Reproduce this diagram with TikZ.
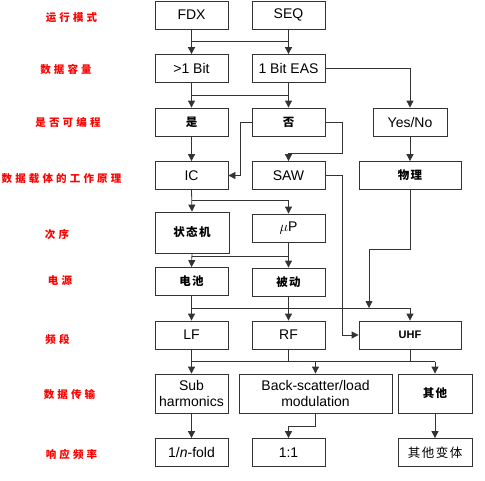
\documentclass[tikz,border=0pt]{standalone}
\usepackage{fontspec}
\setmainfont{Liberation Sans}
\newfontfamily\cjk[LetterSpace=12]{Noto Sans CJK SC}
\newfontfamily\cjkred[LetterSpace=30]{Noto Sans CJK SC}
\usetikzlibrary{arrows.meta,calc}
\tikzset{
  box/.style={draw=black!80, line width=0.8pt, minimum width=73pt, minimum height=28pt,
    inner sep=1pt, align=center, font=\fontsize{14}{16}\selectfont},
  zh/.style={font=\cjk\bfseries\fontsize{11.5}{13}\selectfont},
  lbl/.style={text=red, font=\cjkred\bfseries\fontsize{10.5}{12}\selectfont},
  wire/.style={line width=0.8pt, draw=black!80},
  arr/.style={wire, -{Triangle[length=7pt,width=7pt]}}
}
\begin{document}
\begin{tikzpicture}[x=1pt,y=-1pt]
\useasboundingbox (0,0) rectangle (485,480);
\node[box] (fdx) at (191.5,15) {FDX};
\node[box] (seq) at (288.5,15) {SEQ};
\node[box] (bit) at (191.5,68.5) {>1 Bit};
\node[box] (eas) at (288.5,68.5) {1 Bit EAS};
\node[box,zh] (yes) at (191.5,122) {是};
\node[box,zh] (no) at (288.5,122) {否};
\node[box,minimum width=74pt] (yesno) at (410,122) {Yes/No};
\node[box] (ic) at (191.5,175.5) {IC};
\node[box] (saw) at (288.5,175.5) {SAW};
\node[box,zh,minimum width=102pt] (phys) at (410,175.5) {物理};
\node[box,zh,minimum width=74pt,minimum height=41pt] (fsm) at (192,232.5) {状态机};
\node[box] (mup) at (288.5,228) {$\mu$P};
\node[box,zh] (bat) at (191.5,281.5) {电池};
\node[box,zh] (pas) at (288.5,282) {被动};
\node[box] (lf) at (191.5,335) {LF};
\node[box] (rf) at (288.5,335) {RF};
\node[box,minimum width=102pt,font=\bfseries\fontsize{11}{13}\selectfont] (uhf) at (410,335) {UHF};
\node[box,minimum height=39pt] (sub) at (191.5,393.5) {Sub\\harmonics};
\node[box,minimum width=153pt,minimum height=39pt] (bs) at (315.5,393.5) {Back-scatter/load\\modulation};
\node[box,zh,minimum width=74pt,minimum height=39pt] (oth) at (435,393.5) {其他};
\node[box] (nfold) at (191.5,452.5) {1/\textit{n}-fold};
\node[box] (one) at (288.5,452.5) {1:1};
\node[box,minimum width=74pt,font=\cjk\fontsize{12.5}{14}\selectfont] (var) at (435,452.5) {其他变体};

\foreach \t/\x/\y/\n in {运行模式/71.5/18/lmode, 数据容量/66/69/lcap, 是否可编程/68/122/lprog,
    数据载体的工作原理/61.5/179/lprin, 次序/57/235/lseq, 电源/60/281/lpow,
    频段/57.5/339/lband, 数据传输/69.5/394/ltrans, 响应频率/71.5/454/lresp}
  {\node[lbl] (\n) at (\x,\y) {\t};}

\coordinate (m1) at ($(fdx.south)!0.5!(bit.north)$);
\draw[wire] (m1) -- (m1 -| seq.south);
\draw[arr] (fdx.south) -- (bit.north);
\draw[arr] (seq.south) -- (eas.north);
\coordinate (m2) at ($(bit.south)!0.5!(yes.north)$);
\draw[wire] (m2) -- (m2 -| eas.south);
\draw[arr] (bit.south) -- (yes.north);
\draw[arr] (eas.south) -- (no.north);
\draw[arr] (eas.east) -| (yesno.north);
\draw[arr] (no.west) -- ++(-11,0) |- (ic.east);
\draw[arr] (no.east) -- ++(17,0) -- ++(0,31) -| (saw.north);
\draw[arr] (yes.south) -- (ic.north);
\draw[arr] (yesno.south) -- (phys.north);
\draw[arr] (saw.east) -- ++(17,0) |- (uhf.west);
\coordinate (m4) at ($(ic.south)!0.5!(fsm.north)$);
\draw[wire] (m4) -- (m4 -| mup.north);
\draw[arr] (ic.south) -- (fsm.north);
\draw[arr] (m4 -| mup.north) -- (mup.north);
\coordinate (m5) at ($(mup.south)+(0,14)$);
\draw[wire] (m5 -| fsm.south) -- (m5);
\draw[arr] (fsm.south) -- (bat.north);
\draw[arr] (mup.south) -- (pas.north);
\coordinate (m6) at ($(bat.south)!0.5!(lf.north)$);
\coordinate (j4) at (369,308);
\draw[wire] (m6) -- (m6 -| uhf.north);
\draw[arr] (bat.south) -- (lf.north);
\draw[arr] (pas.south) -- (rf.north);
\draw[arr] (m6 -| uhf.north) -- (uhf.north);
\draw[arr] (phys.south) -- ++(0,59) -| (j4);
\coordinate (m7) at ($(lf.south)!0.5!(sub.north)$);
\draw[wire] (m7) -- (m7 -| oth.north);
\draw[wire] (rf.south) -- (rf.south |- m7);
\draw[wire] (uhf.south) -- (uhf.south |- m7);
\draw[arr] (lf.south) -- (sub.north);
\draw[arr] (m7 -| bs.north) -- (bs.north);
\draw[arr] (m7 -| oth.north) -- (oth.north);
\draw[arr] (sub.south) -- (nfold.north);
\draw[arr] (bs.south) -- ++(0,13) -| (one.north);
\draw[arr] (oth.south) -- (var.north);
\end{tikzpicture}
\end{document}
